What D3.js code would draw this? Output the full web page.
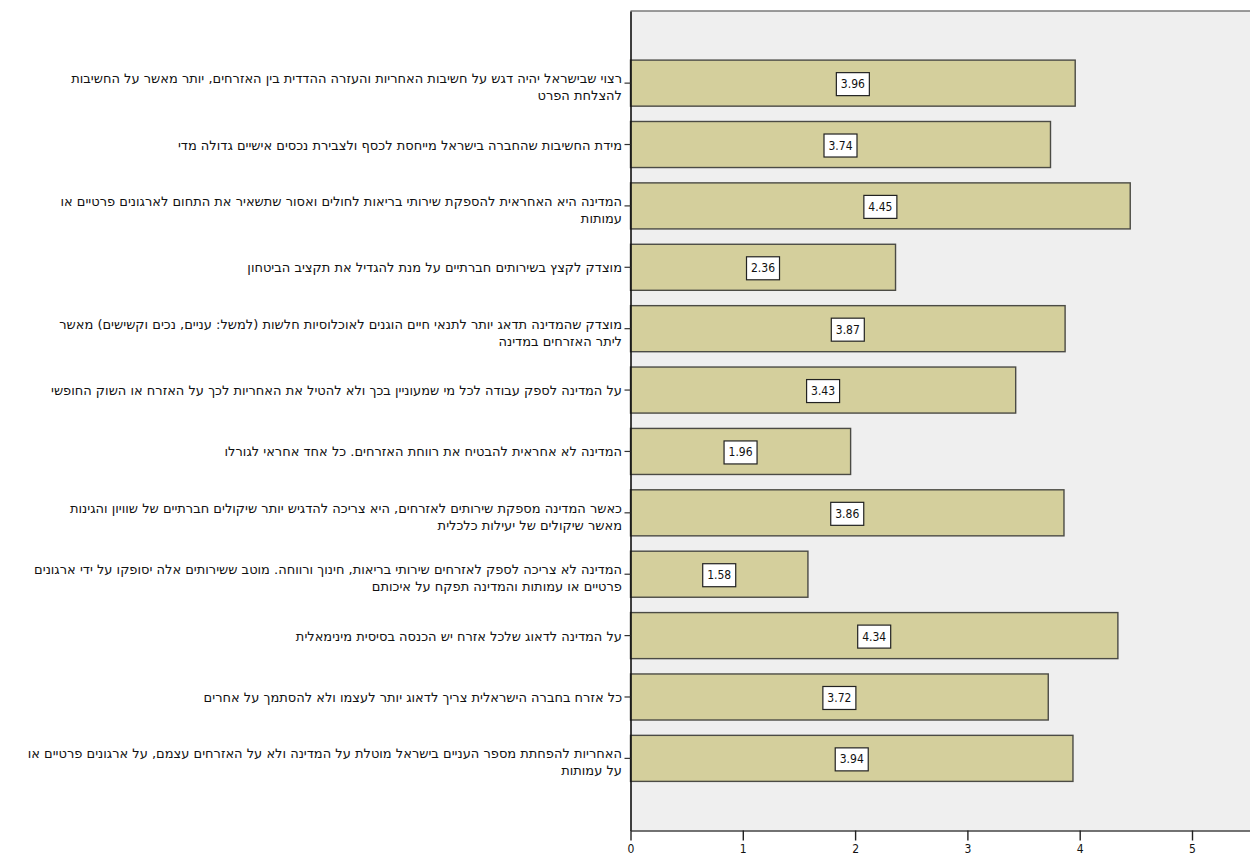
<!DOCTYPE html>
<html>
<head>
<meta charset="utf-8">
<script src="https://cdn.jsdelivr.net/npm/d3@7"></script>
<style>
  html, body { margin: 0; padding: 0; background: #ffffff; }
  svg { display: block; }
</style>
</head>
<body>
<svg id="chart" width="1250" height="856"></svg>
<script>
// Statements (each item is one label; array entries are the wrapped lines)
const statements = [
  ["רצוי שבישראל יהיה דגש על חשיבות האחריות והעזרה ההדדית בין האזרחים, יותר מאשר על החשיבות", "להצלחת הפרט"],
  ["מידת החשיבות שהחברה בישראל מייחסת לכסף ולצבירת נכסים אישיים גדולה מדי"],
  ["המדינה היא האחראית להספקת שירותי בריאות לחולים ואסור שתשאיר את התחום לארגונים פרטיים או", "עמותות"],
  ["מוצדק לקצץ בשירותים חברתיים על מנת להגדיל את תקציב הביטחון"],
  ["מוצדק שהמדינה תדאג יותר לתנאי חיים הוגנים לאוכלוסיות חלשות (למשל: עניים, נכים וקשישים) מאשר", "ליתר האזרחים במדינה"],
  ["על המדינה לספק עבודה לכל מי שמעוניין בכך ולא להטיל את האחריות לכך על האזרח או השוק החופשי"],
  ["המדינה לא אחראית להבטיח את רווחת האזרחים. כל אחד אחראי לגורלו"],
  ["כאשר המדינה מספקת שירותים לאזרחים, היא צריכה להדגיש יותר שיקולים חברתיים של שוויון והגינות", "מאשר שיקולים של יעילות כלכלית"],
  ["המדינה לא צריכה לספק לאזרחים שירותי בריאות, חינוך ורווחה. מוטב ששירותים אלה יסופקו על ידי ארגונים", "פרטיים או עמותות והמדינה תפקח על איכותם"],
  ["על המדינה לדאוג שלכל אזרח יש הכנסה בסיסית מינימאלית"],
  ["כל אזרח בחברה הישראלית צריך לדאוג יותר לעצמו ולא להסתמך על אחרים"],
  ["האחריות להפחתת מספר העניים בישראל מוטלת על המדינה ולא על האזרחים עצמם, על ארגונים פרטיים או", "על עמותות"]
];

// Mean agreement score per statement
const means = [3.96, 3.74, 4.45, 2.36, 3.87, 3.43, 1.96, 3.86, 1.58, 4.34, 3.72, 3.94];

// Axis ticks
const xTicks = [0, 1, 2, 3, 4, 5];

const data = statements.map((lines, i) => ({ id: i, lines, value: means[i] }));

const svg = d3.select("#chart");
const plot = { left: 630.5, right: 1250, top: 11, bottom: 830.5 };

const x = d3.scaleLinear().domain([0, 5.52]).range([plot.left, plot.left + 5.52 * 112.3]);
const y = d3.scaleBand()
  .domain(data.map(d => d.id))
  .range([plot.top, plot.bottom])
  .paddingInner(0.25)
  .paddingOuter(0.8);

// Plot background
svg.append("rect")
  .attr("x", plot.left).attr("y", plot.top)
  .attr("width", plot.right - plot.left).attr("height", plot.bottom - plot.top)
  .attr("fill", "#efefef");

// Top frame line
svg.append("line")
  .attr("x1", plot.left).attr("x2", plot.right)
  .attr("y1", plot.top).attr("y2", plot.top)
  .attr("stroke", "#7a7a7a").attr("stroke-width", 1.6);

// Bars
svg.append("g").selectAll("rect")
  .data(data)
  .join("rect")
  .attr("x", x(0))
  .attr("y", d => y(d.id))
  .attr("width", d => x(d.value) - x(0))
  .attr("height", y.bandwidth())
  .attr("fill", "#d4cf9c")
  .attr("stroke", "#4b4b45")
  .attr("stroke-width", 1.4);

// Value labels in boxes
const valueFmt = d3.format(".2f");
const vlab = svg.append("g").selectAll("g")
  .data(data)
  .join("g")
  .attr("transform", d => `translate(${(x(0) + x(d.value)) / 2},${y(d.id) + y.bandwidth() / 2 + 1})`);
vlab.append("rect")
  .attr("x", -16.5).attr("y", -11.5)
  .attr("width", 33).attr("height", 23)
  .attr("fill", "#ffffff")
  .attr("stroke", "#222")
  .attr("stroke-width", 1.2);
vlab.append("text")
  .attr("text-anchor", "middle")
  .attr("dominant-baseline", "central")
  .attr("font-family", "DejaVu Sans Condensed, DejaVu Sans, sans-serif")
  .attr("font-size", 12)
  .attr("fill", "#111")
  .text(d => valueFmt(d.value));

// Y axis (categories)
const yAxis = d3.axisLeft(y).tickSizeInner(6).tickSizeOuter(0).tickFormat(() => "");
const gy = svg.append("g").attr("transform", `translate(${plot.left},0)`).call(yAxis);
gy.select(".domain").attr("stroke", "#111").attr("stroke-width", 1.6);
gy.selectAll(".tick line").attr("stroke", "#333").attr("stroke-width", 1.2);

// Wrapped Hebrew category labels
const labels = svg.append("g").selectAll("text")
  .data(data)
  .join("text")
  .attr("direction", "rtl")
  .attr("text-anchor", "start")
  .attr("font-family", "DejaVu Sans, sans-serif")
  .attr("font-size", 13)
  .attr("fill", "#111")
  .attr("dominant-baseline", "central");
labels.each(function(d) {
  const c = y(d.id) + y.bandwidth() / 2;
  const n = d.lines.length;
  const startY = n === 1 ? c : c - 5;
  d3.select(this).selectAll("tspan")
    .data(d.lines)
    .join("tspan")
    .attr("x", 622)
    .attr("y", (l, i) => startY + i * 17)
    .text(l => l);
});

// X axis
const xAxis = d3.axisBottom(x).tickValues(xTicks).tickSizeInner(10).tickSizeOuter(0).tickPadding(4).tickFormat(d3.format("d"));
const gx = svg.append("g").attr("transform", `translate(0,${plot.bottom})`).call(xAxis);
gx.select(".domain").attr("stroke", "#444").attr("stroke-width", 1.6);
gx.selectAll(".tick line").attr("stroke", "#222").attr("stroke-width", 1.4);
gx.selectAll(".tick text")
  .attr("font-family", "DejaVu Sans Condensed, DejaVu Sans, sans-serif")
  .attr("font-size", 12)
  .attr("fill", "#111");
</script>
</body>
</html>
